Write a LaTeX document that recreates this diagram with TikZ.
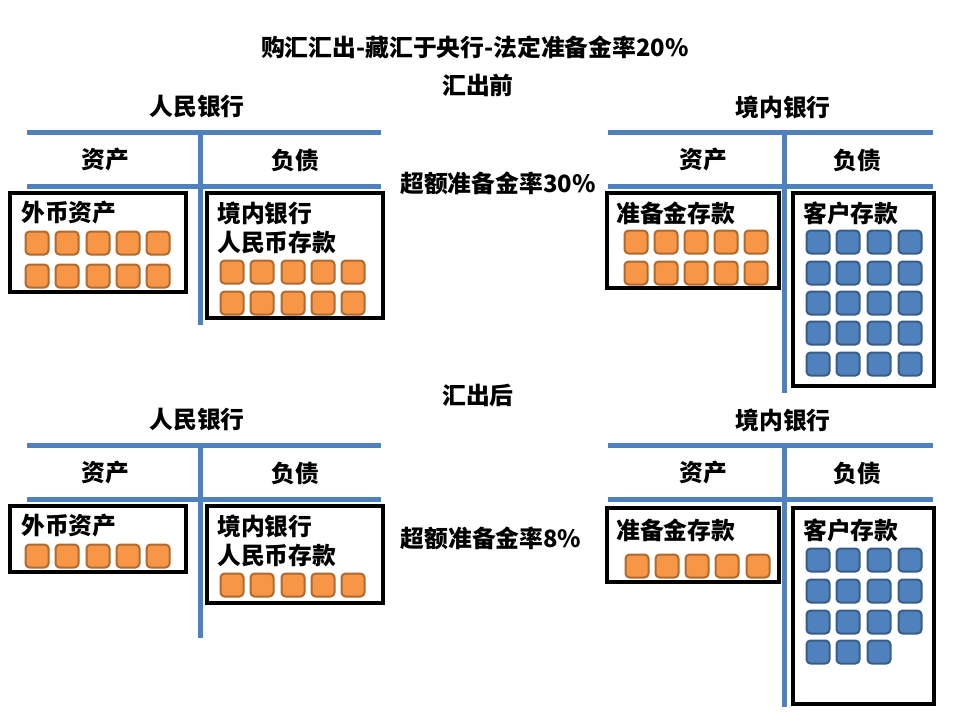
\documentclass[tikz,border=0pt]{standalone}
\usepackage{fontspec}
\setmainfont{Noto Sans CJK SC}
\definecolor{tblue}{HTML}{4F81BD}
\definecolor{sqor}{HTML}{F79646}
\definecolor{sqore}{HTML}{B0692E}
\definecolor{sqbl}{HTML}{4F81BD}
\definecolor{sqble}{HTML}{385D8A}
\tikzset{
  tline/.style={draw=tblue, line width=5pt},
  acct/.style={draw=black, line width=4pt},
  lbl/.style={font=\fontsize{23.8}{26}\selectfont\bfseries, inner sep=0pt},
  boxlbl/.style={lbl, anchor=west, align=left},
  osq/.style={rectangle, minimum size=23pt, inner sep=0pt, rounded corners=4pt, fill=sqor, draw=sqore, line width=2pt},
  bsq/.style={rectangle, minimum size=23pt, inner sep=0pt, rounded corners=4pt, fill=sqbl, draw=sqble, line width=2pt},
}
\begin{document}
\begin{tikzpicture}[x=1pt,y=-1pt]
\useasboundingbox[fill=white] (0,0) rectangle (960,720);
% titles
\node[lbl] (title) at (475,47) {购汇汇出-藏汇于央行-法定准备金率20\%};
\node[lbl] (before) at (478,85) {汇出前};
\node[lbl] (after) at (478,395) {汇出后};
\node[lbl] (ex1) at (498,183) {超额准备金率30\%};
\node[lbl] (ex2) at (491,538) {超额准备金率8\%};

% ===== top-left: 人民银行 =====
\node[lbl] (pbc1) at (197,107) {人民银行};
\draw[tline] (27,132) -- (381,132);
\draw[tline] (27,186) -- (381,186);
\draw[tline] (200,132) -- (200,325);
\node[lbl] (pbc1a) at (105,160) {资产};
\node[lbl] (pbc1l) at (295,160) {负债};
\draw[acct] (10,193) rectangle (186,292);
\node[boxlbl] (fx1) at (21,213) {外币资产};
\foreach \c [count=\i] in {37,67,98,128,158}{
  \node[osq] (fxa\i) at (\c,243) {};
  \node[osq] (fxb\i) at (\c,276) {};
}
\draw[acct] (207,193) rectangle (383,318);
\node[boxlbl] (rmb1) at (217,228) {境内银行\\[3pt]人民币存款};
\foreach \c [count=\i] in {232,262,293,323,353}{
  \node[osq] (rma\i) at (\c,272) {};
  \node[osq] (rmb\i) at (\c,303) {};
}

% ===== top-right: 境内银行 =====
\node[lbl] (db1) at (783,107) {境内银行};
\draw[tline] (608,132) -- (933,132);
\draw[tline] (608,186) -- (933,186);
\draw[tline] (784,132) -- (784,393);
\node[lbl] (db1a) at (703,160) {资产};
\node[lbl] (db1l) at (857,160) {负债};
\draw[acct] (607,193) rectangle (779,288);
\node[boxlbl] (res1) at (616,213) {准备金存款};
\foreach \c [count=\i] in {636,666,696,726,756}{
  \node[osq] (rsa\i) at (\c,242) {};
  \node[osq] (rsb\i) at (\c,273) {};
}
\draw[acct] (793,193) rectangle (934,386);
\node[boxlbl] (cd1) at (803,213) {客户存款};
\foreach \r [count=\j] in {242,273,303,333,364}{
  \foreach \c [count=\i] in {818,848,879,910}{
    \node[bsq] (cda\j\i) at (\c,\r) {};
  }
}

% ===== bottom-left: 人民银行 =====
\node[lbl] (pbc2) at (197,420) {人民银行};
\draw[tline] (27,445) -- (381,445);
\draw[tline] (27,499) -- (381,499);
\draw[tline] (200,445) -- (200,638);
\node[lbl] (pbc2a) at (105,473) {资产};
\node[lbl] (pbc2l) at (295,473) {负债};
\draw[acct] (10,506) rectangle (186,572);
\node[boxlbl] (fx2) at (21,526) {外币资产};
\foreach \c [count=\i] in {37,67,98,128,158}{
  \node[osq] (fxc\i) at (\c,556) {};
}
\draw[acct] (207,506) rectangle (383,603);
\node[boxlbl] (rmb2) at (217,541) {境内银行\\[3pt]人民币存款};
\foreach \c [count=\i] in {232,262,293,323,353}{
  \node[osq] (rmc\i) at (\c,585) {};
}

% ===== bottom-right: 境内银行 =====
\node[lbl] (db2) at (783,420) {境内银行};
\draw[tline] (608,445) -- (933,445);
\draw[tline] (608,499) -- (933,499);
\draw[tline] (784,445) -- (784,707);
\node[lbl] (db2a) at (703,473) {资产};
\node[lbl] (db2l) at (857,473) {负债};
\draw[acct] (607,508) rectangle (779,582);
\node[boxlbl] (res2) at (616,530) {准备金存款};
\foreach \c [count=\i] in {637,667,697,727,758}{
  \node[osq] (rsc\i) at (\c,566) {};
}
\draw[acct] (793,508) rectangle (934,704);
\node[boxlbl] (cd2) at (803,530) {客户存款};
\foreach \r [count=\j] in {560,591,622}{
  \foreach \c [count=\i] in {818,848,879,910}{
    \node[bsq] (cdb\j\i) at (\c,\r) {};
  }
}
\foreach \c [count=\i] in {818,848,879}{
  \node[bsq] (cdc\i) at (\c,652) {};
}
\end{tikzpicture}
\end{document}
